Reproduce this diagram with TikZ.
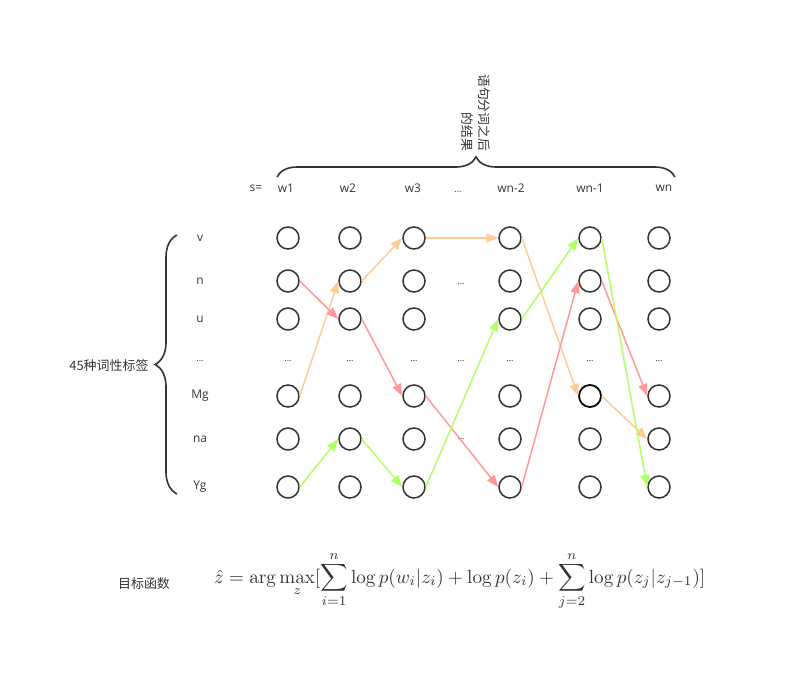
\documentclass[tikz,border=0pt]{standalone}
\usepackage{amsmath,amssymb}
\usepackage[no-math]{fontspec}
\setmainfont{Open Sans}
\newfontfamily\cjk{Noto Sans CJK SC}
\usetikzlibrary{arrows.meta,decorations.pathreplacing,positioning,calc}
\definecolor{ringgray}{RGB}{51,51,51}
\definecolor{pathorange}{RGB}{255,204,153}
\definecolor{pathred}{RGB}{255,153,153}
\definecolor{pathgreen}{RGB}{179,255,102}
\tikzset{
  tagstate/.style={circle,draw=ringgray,line width=1.5bp,minimum size=22bp,inner sep=0pt},
  toptxt/.style={font=\fontsize{12}{14}\selectfont,text=ringgray},
  dotstxt/.style={font=\fontsize{9}{10}\selectfont,text=ringgray,anchor=base,inner sep=0pt},
  cjktxt/.style={text=ringgray,font=\cjk\fontsize{13}{15}\selectfont},
  bracepath/.style={decorate,decoration={brace,amplitude=20bp},draw=ringgray,line width=1.6bp},
  viterbi/.style={line width=1.5bp,-{Triangle[length=12bp,width=9bp]}}
}

\begin{document}
\begin{tikzpicture}[x=1bp,y=-1bp]
  \useasboundingbox (0,0) rectangle (801,685);
  \foreach \x [count=\i] in {288,350,414,510,590,659}{
    \foreach \y [count=\j] in {238,281,319,396,439,487}
      \node[tagstate] (c-\i-\j) at (\x,\y) {};
    \node[dotstxt] (d-\i) at (\x,361) {...};
  }
  \node[tagstate,draw=black] at (c-5-4) {};
  \foreach \t/\y [count=\j] in {v/238,n/281,u/319,Mg/396,na/439,Yg/487}
    \node[toptxt] (tag-\j) at (200,\y) {\t};
  \node[dotstxt] (tag-dots) at (200,361) {...};
  \foreach \y [count=\j] in {284,361,439}
    \node[dotstxt] (gap-\j) at (461,\y) {...};
  \node[toptxt] (s-eq) at (256,188) {s=};
  \foreach \t/\x [count=\i] in {w1/286,w2/348,w3/413,wn-2/511,wn-1/590,wn/664}
    \node[toptxt] (w-\i) at (\x,188) {\t};
  \node[dotstxt] (w-dots) at (458,192) {...};
  \coordinate (tb-l) at (277,177);
  \coordinate (tb-r) at (675,177);
  \draw[bracepath] (tb-l) -- (tb-r);
  \node[rotate=-90,anchor=east,align=right,inner sep=0pt,cjktxt,
        font=\cjk\fontsize{12.8}{17}\selectfont] (seg-note) at (476,151)
    {语句分词之后\\的结果};
  \coordinate (lb-b) at (177,494);
  \coordinate (lb-t) at (177,235);
  \draw[bracepath,decoration={amplitude=22bp}] (lb-b) -- (lb-t);
  \node[anchor=east,cjktxt] (tag-note) at (152,366) {45种词性标签};
  \foreach \a/\b in {1-4/2-2,2-2/3-1,3-1/4-1,4-1/5-4,5-4/6-5}
    \draw[viterbi,pathorange] (c-\a.east) -- (c-\b.west);
  \foreach \a/\b in {1-2/2-3,2-3/3-4,3-4/4-6,4-6/5-2,5-2/6-4}
    \draw[viterbi,pathred] (c-\a.east) -- (c-\b.west);
  \foreach \a/\b in {1-6/2-5,2-5/3-6,3-6/4-3,4-3/5-1,5-1/6-6}
    \draw[viterbi,pathgreen] (c-\a.east) -- (c-\b.west);
  \node[cjktxt] (goal) at (144,584) {目标函数};
  \node[anchor=base west,inner sep=0pt,text=black!80] (goal-eq) at (214,583)
    {\resizebox{491bp}{!}{$\displaystyle \hat{z}=\arg\max_{z}[\sum_{i=1}^{n}\log p(w_i|z_i)+\log p(z_i)+\sum_{j=2}^{n}\log p(z_j|z_{j-1})]$}};
\end{tikzpicture}
\end{document}
